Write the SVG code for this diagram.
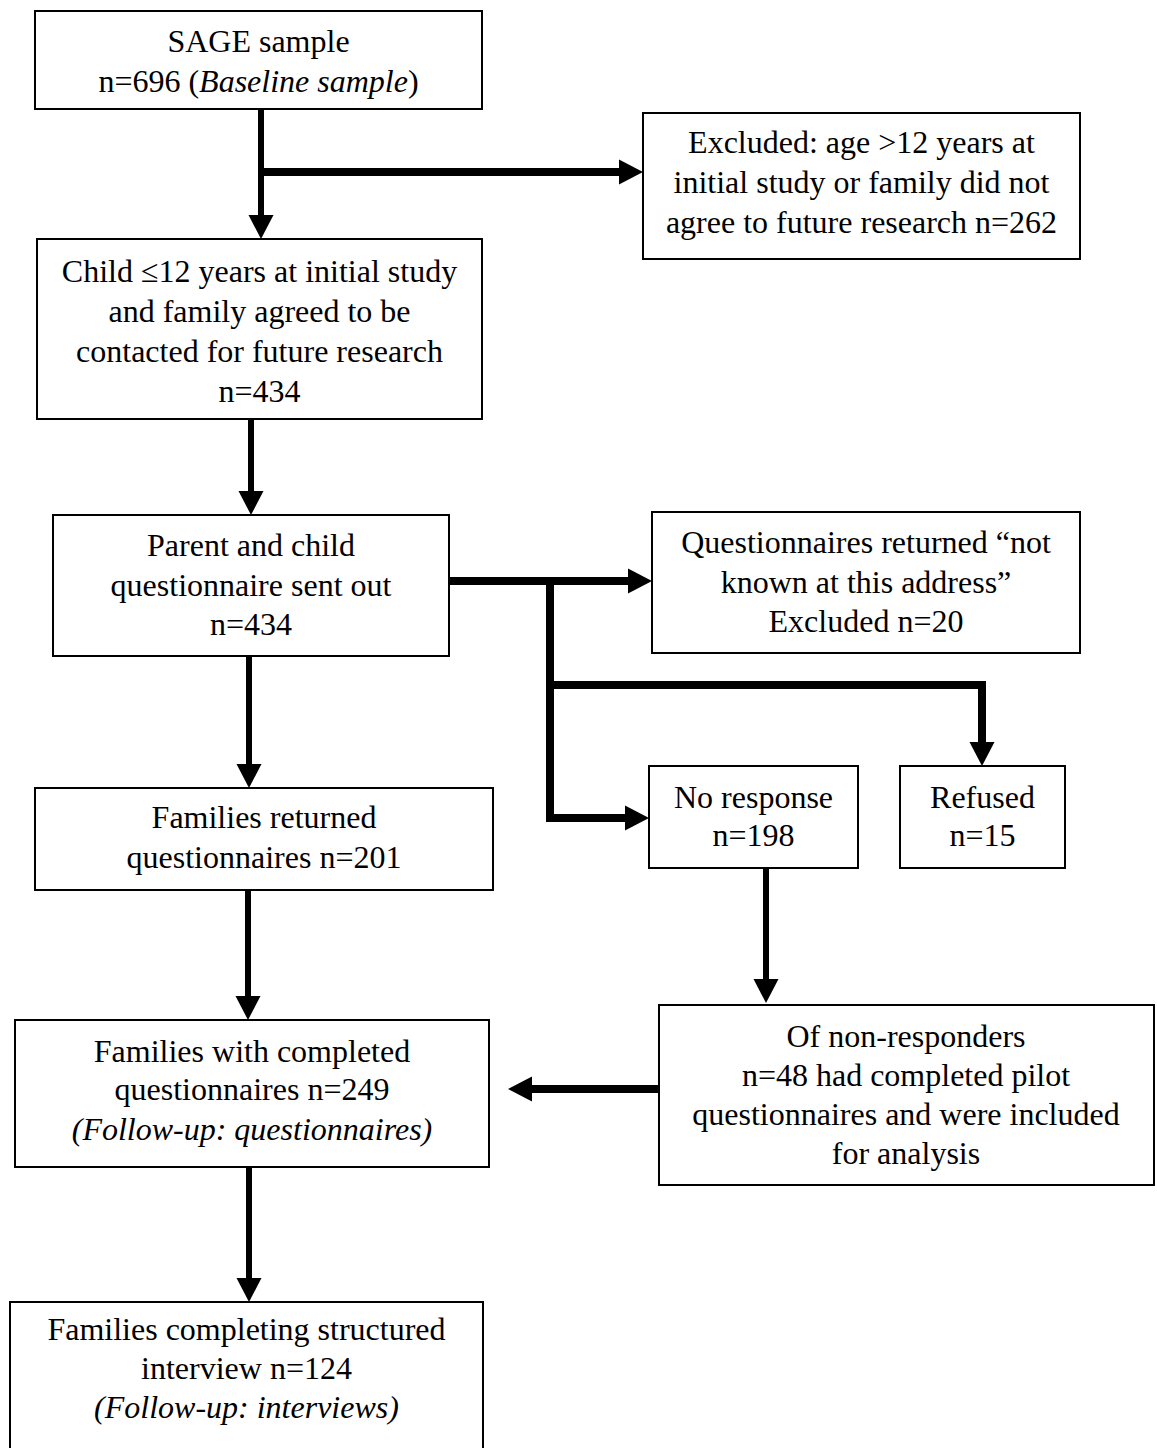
<svg xmlns="http://www.w3.org/2000/svg" width="1157" height="1448" viewBox="0 0 1157 1448">
<style>
.box{fill:#fff;stroke:#000;stroke-width:2}
text{font-family:"Liberation Serif","Times New Roman",serif;font-size:32px;fill:#000;text-anchor:middle}
.it{font-style:italic}
.v{fill:none;stroke:#000;stroke-width:6}
.h{fill:none;stroke:#000;stroke-width:8}
</style>
<defs>
<marker id="ah" markerUnits="userSpaceOnUse" markerWidth="26" markerHeight="28" viewBox="0 -14 26 28" refX="0" refY="0" orient="auto">
<path d="M0,-12.5 L24,0 L0,12.5 z" fill="#000"/>
</marker>
</defs>
<rect width="1157" height="1448" fill="#fff"/>
<g id="connectors">
<path class="v" d="M261,109 V215" marker-end="url(#ah)"/>
<path class="h" d="M261,172 H619" marker-end="url(#ah)"/>
<path class="v" d="M251,419 V491" marker-end="url(#ah)"/>
<path class="h" d="M449,581 H628" marker-end="url(#ah)"/>
<path class="h" d="M550,581 V818 H625" marker-end="url(#ah)"/>
<path class="h" d="M550,685 H982 V742" marker-end="url(#ah)"/>
<path class="v" d="M249,656 V764" marker-end="url(#ah)"/>
<path class="v" d="M248,890 V996" marker-end="url(#ah)"/>
<path class="v" d="M766,868 V979" marker-end="url(#ah)"/>
<path class="h" d="M659,1089 H532" marker-end="url(#ah)"/>
<path class="v" d="M249,1167 V1278" marker-end="url(#ah)"/>
</g>
<g id="sage">
<rect class="box" x="35" y="11" width="447" height="98"/>
<text x="258.5" y="52">SAGE sample</text>
<text x="258.5" y="92">n=696 (<tspan class="it">Baseline sample</tspan>)</text>
</g>
<g id="excluded">
<rect class="box" x="643" y="113" width="437" height="146"/>
<text x="861.5" y="153">Excluded: age &gt;12 years at</text>
<text x="861.5" y="193">initial study or family did not</text>
<text x="861.5" y="233">agree to future research n=262</text>
</g>
<g id="child">
<rect class="box" x="37" y="239" width="445" height="180"/>
<text x="259.5" y="282">Child ≤12 years at initial study</text>
<text x="259.5" y="322">and family agreed to be</text>
<text x="259.5" y="362">contacted for future research</text>
<text x="259.5" y="402">n=434</text>
</g>
<g id="parent">
<rect class="box" x="53" y="515" width="396" height="141"/>
<text x="251" y="556">Parent and child</text>
<text x="251" y="596">questionnaire sent out</text>
<text x="251" y="635">n=434</text>
</g>
<g id="returned-unknown">
<rect class="box" x="652" y="512" width="428" height="141"/>
<text x="866" y="553">Questionnaires returned “not</text>
<text x="866" y="593">known at this address”</text>
<text x="866" y="632">Excluded n=20</text>
</g>
<g id="families-returned">
<rect class="box" x="35" y="788" width="458" height="102"/>
<text x="264" y="828">Families returned</text>
<text x="264" y="868">questionnaires n=201</text>
</g>
<g id="no-response">
<rect class="box" x="649" y="766" width="209" height="102"/>
<text x="753.5" y="808">No response</text>
<text x="753.5" y="846">n=198</text>
</g>
<g id="refused">
<rect class="box" x="900" y="766" width="165" height="102"/>
<text x="982.5" y="808">Refused</text>
<text x="982.5" y="846">n=15</text>
</g>
<g id="families-completed">
<rect class="box" x="15" y="1020" width="474" height="147"/>
<text x="252" y="1062">Families with completed</text>
<text x="252" y="1100">questionnaires n=249</text>
<text x="252" y="1140" class="it">(Follow-up: questionnaires)</text>
</g>
<g id="non-responders">
<rect class="box" x="659" y="1005" width="495" height="180"/>
<text x="906" y="1047">Of non-responders</text>
<text x="906" y="1086">n=48 had completed pilot</text>
<text x="906" y="1125">questionnaires and were included</text>
<text x="906" y="1164">for analysis</text>
</g>
<g id="interviews">
<rect class="box" x="10" y="1302" width="473" height="160"/>
<text x="246.5" y="1340">Families completing structured</text>
<text x="246.5" y="1379">interview n=124</text>
<text x="246.5" y="1418" class="it">(Follow-up: interviews)</text>
</g>
</svg>
